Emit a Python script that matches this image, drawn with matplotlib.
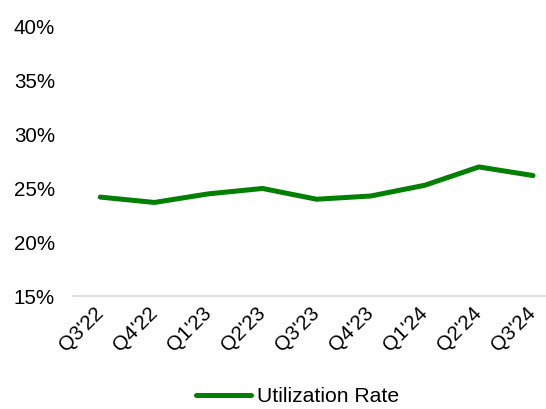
import matplotlib.pyplot as plt
from matplotlib.ticker import FuncFormatter

plt.rcParams['font.family'] = ['Liberation Sans', 'DejaVu Sans']

quarters = ["Q3'22", "Q4'22", "Q1'23", "Q2'23", "Q3'23",
            "Q4'23", "Q1'24", "Q2'24", "Q3'24"]
utilization = [24.2, 23.7, 24.5, 25.0, 24.0, 24.3, 25.3, 27.0, 26.2]

fig = plt.figure(figsize=(5.46, 4.09), dpi=100)
ax = fig.add_axes([0.134, 0.276, 0.866, 0.658])

x = range(len(quarters))
ax.plot(x, utilization, color='#008000', linewidth=3.6,
        solid_capstyle='round', solid_joinstyle='round',
        label='Utilization Rate')

ax.set_ylim(15, 40)
ax.set_yticks([15, 20, 25, 30, 35, 40])
ax.yaxis.set_major_formatter(FuncFormatter(lambda v, p: '%d%%' % v))
ax.set_xlim(-0.5, 8.24)
ax.set_xticks(list(x))
ax.set_xticklabels(quarters, rotation=45, ha='right', va='center',
                   rotation_mode='anchor')

for s in ['top', 'right', 'left']:
    ax.spines[s].set_visible(False)
ax.spines['bottom'].set_color('#d9d9d9')
ax.spines['bottom'].set_linewidth(1.2)
ax.tick_params(axis='both', length=0, labelsize=14.8, colors='black')
ax.tick_params(axis='x', pad=10)
ax.tick_params(axis='y', pad=13)

fig.legend(loc='center', bbox_to_anchor=(0.545, 0.03), frameon=False,
           fontsize=15.2, handlelength=2.6, handletextpad=0.25)

fig.savefig('out.png', dpi=100)
